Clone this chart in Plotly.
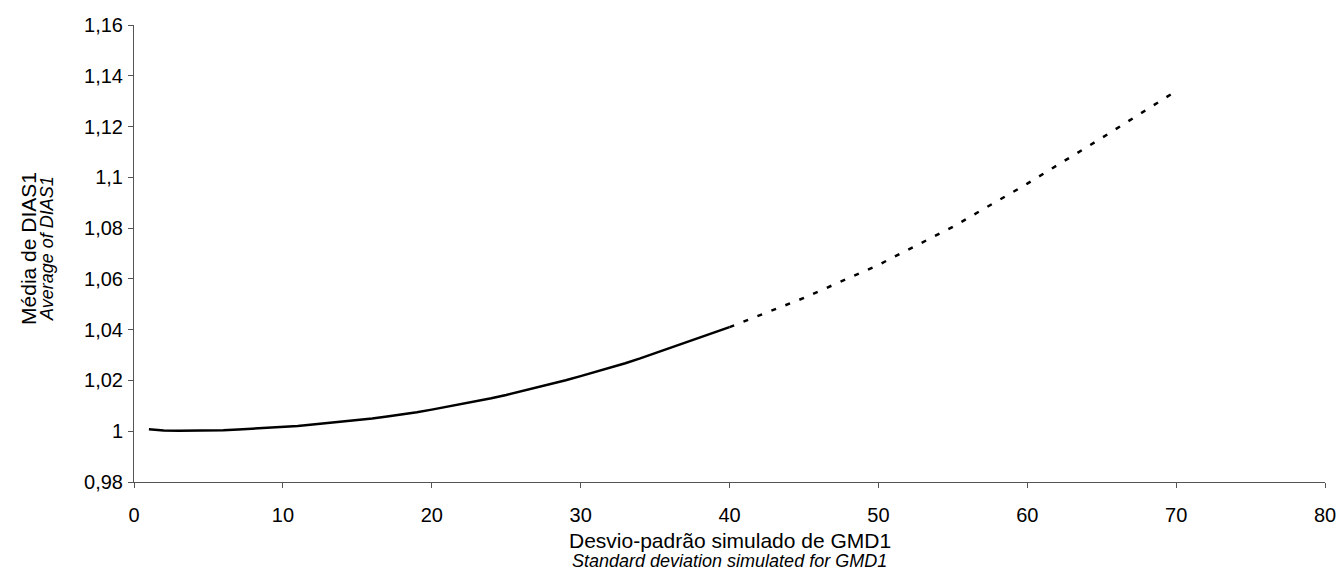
import plotly.graph_objects as go

# Solid segment (simulated values)
x_solid = list(range(1, 41))
y_solid = [1.0008, 1.0003, 1.0002, 1.0002, 1.0002, 1.0004, 1.0007, 1.0010, 1.0012, 1.0016,
           1.0021, 1.0026, 1.0032, 1.0037, 1.0043, 1.0050, 1.0058, 1.0066, 1.0075, 1.0085,
           1.0096, 1.0107, 1.0118, 1.0130, 1.0143, 1.0157, 1.0171, 1.0186, 1.0201, 1.0217,
           1.0233, 1.0250, 1.0268, 1.0287, 1.0307, 1.0327, 1.0348, 1.0368, 1.0389, 1.0410]

# Dotted segment (extrapolation)
x_dotted = [40, 45, 50, 55, 60, 65, 70]
y_dotted = [1.0410, 1.0525, 1.0655, 1.0805, 1.0975, 1.1155, 1.1340]

x_ticks = [0, 10, 20, 30, 40, 50, 60, 70, 80]
y_ticks = [0.98, 1.00, 1.02, 1.04, 1.06, 1.08, 1.10, 1.12, 1.14, 1.16]
y_tick_labels = ["0,98", "1", "1,02", "1,04", "1,06", "1,08", "1,1", "1,12", "1,14", "1,16"]

x_title = "Desvio-padrão simulado de GMD1"
x_subtitle = "Standard deviation simulated for GMD1"
y_title = "Média de DIAS1"
y_subtitle = "Average of DIAS1"

fig = go.Figure()
fig.add_trace(go.Scatter(x=x_solid, y=y_solid, mode="lines",
                         line=dict(color="black", width=2.5), showlegend=False))
fig.add_trace(go.Scatter(x=x_dotted, y=y_dotted, mode="lines",
                         line=dict(color="black", width=2.5, dash="5px,10px"), showlegend=False))

font_family = "Liberation Sans, Arial, sans-serif"
axis_color = "#555"

fig.update_layout(
    width=1338, height=582,
    margin=dict(l=134, r=13, t=25, b=100, autoexpand=False),
    paper_bgcolor="white", plot_bgcolor="white",
    font=dict(family=font_family, color="black", size=20),
    separators=", ",
    xaxis=dict(
        range=[0, 80], tickvals=x_ticks, ticktext=[str(v) for v in x_ticks],
        showgrid=False, zeroline=False, showline=True, linecolor=axis_color, linewidth=1,
        ticks="outside", ticklen=5, tickcolor=axis_color, tickwidth=1,
        tickfont=dict(size=20), ticklabelstandoff=10, automargin=False,
    ),
    yaxis=dict(
        range=[0.98, 1.16], tickvals=y_ticks, ticktext=y_tick_labels,
        showgrid=False, zeroline=False, showline=True, linecolor=axis_color, linewidth=1,
        ticks="outside", ticklen=5, tickcolor=axis_color, tickwidth=1,
        tickfont=dict(size=20), ticklabelstandoff=1, automargin=False,
    ),
)

# Y axis title (two lines)
fig.add_annotation(text=y_title, xref="paper", yref="paper", x=0, y=0.51,
                   xanchor="center", yanchor="middle", xshift=-105, textangle=-90,
                   showarrow=False, font=dict(size=21))
fig.add_annotation(text="<i>" + y_subtitle + "</i>", xref="paper", yref="paper", x=0, y=0.51,
                   xanchor="center", yanchor="middle", xshift=-87, textangle=-90,
                   showarrow=False, font=dict(size=18))
# X axis title (two lines)
fig.add_annotation(text=x_title, xref="paper", yref="paper", x=0.5, y=0,
                   xanchor="center", yanchor="middle", yshift=-58,
                   showarrow=False, font=dict(size=21))
fig.add_annotation(text="<i>" + x_subtitle + "</i>", xref="paper", yref="paper", x=0.5, y=0,
                   xanchor="center", yanchor="middle", yshift=-79,
                   showarrow=False, font=dict(size=18))

fig.write_html("out.html")
